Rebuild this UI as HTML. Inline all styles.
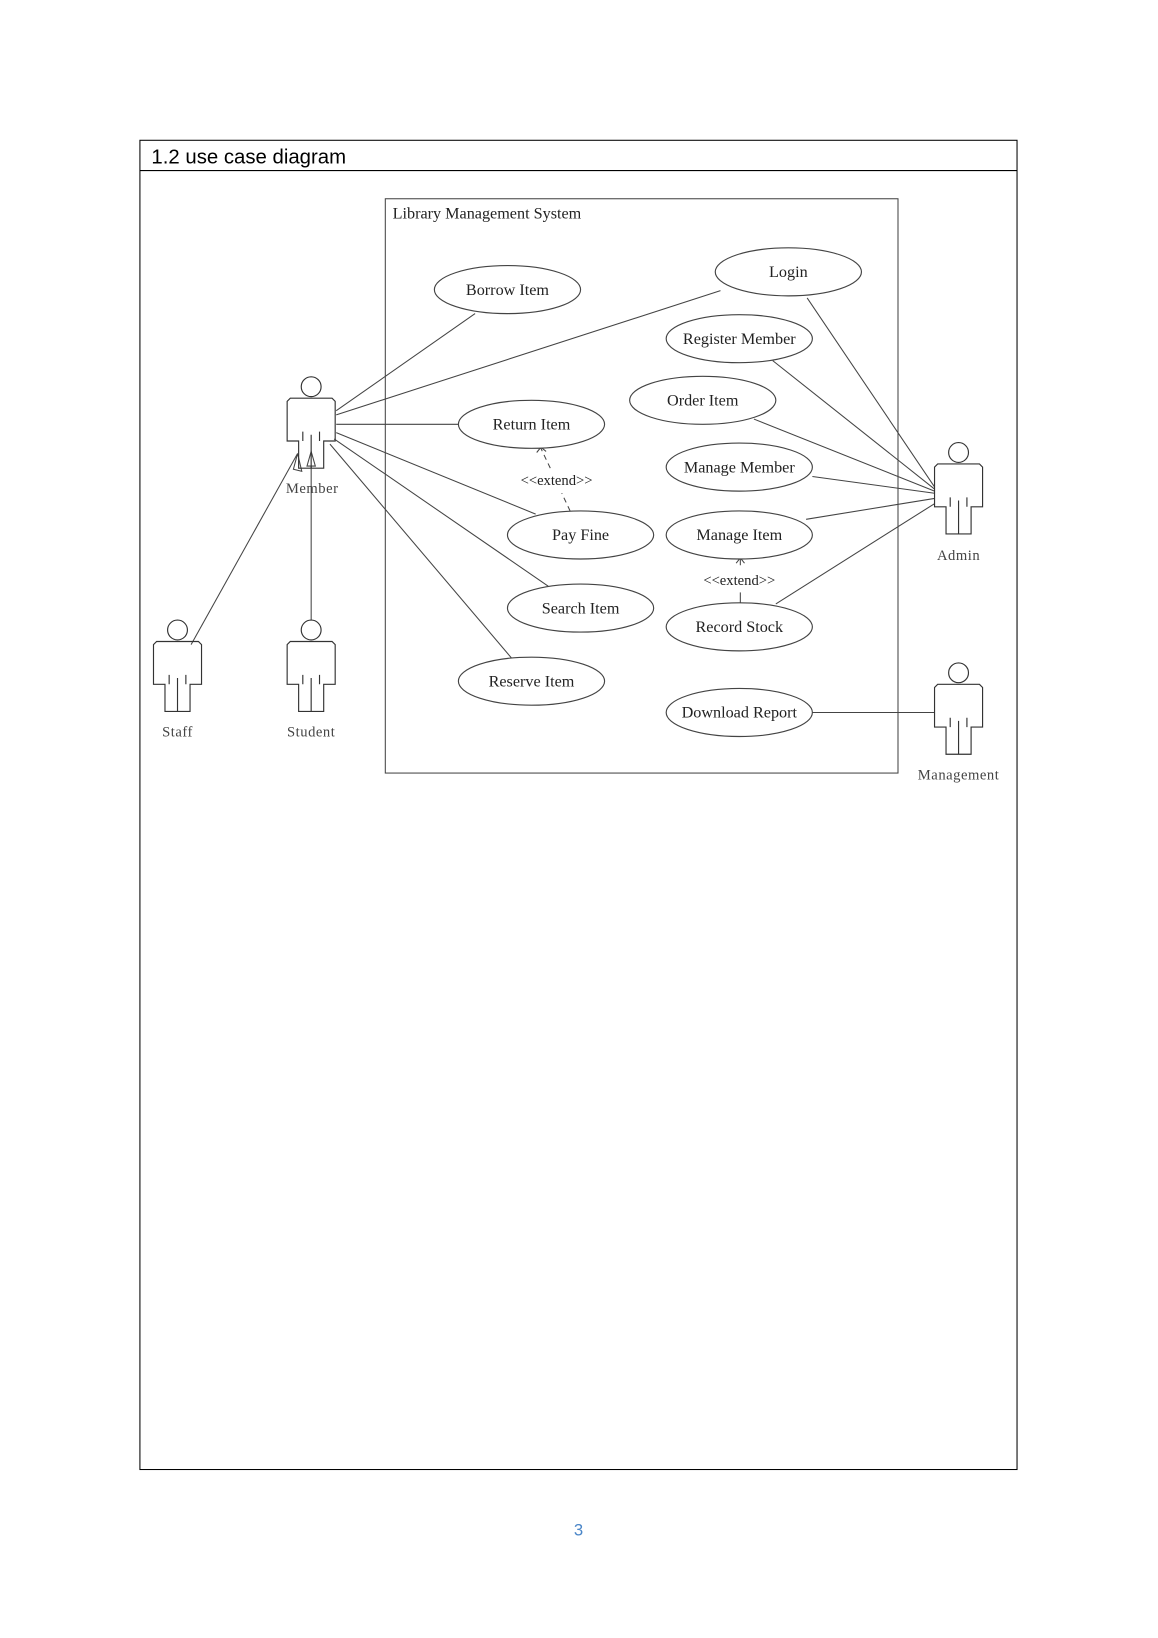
<!DOCTYPE html>
<html><head><meta charset="utf-8"><style>
html,body{margin:0;padding:0;background:#fff;width:1158px;height:1638px;overflow:hidden}
svg{display:block}
.s{font-family:"Liberation Serif",serif;font-size:15.5px;fill:#222}
</style></head><body>
<svg width="1158" height="1638" viewBox="0 0 1109 1568" xmlns="http://www.w3.org/2000/svg">
<defs>
<g id="actor" fill="none" stroke="#333" stroke-width="1.1">
<circle cx="0" cy="0" r="9.5"/>
<path d="M-12,78 V52 H-23 V14 L-20,11 H20 L23,14 V52 H12 V78 Z"/>
<path d="M-8,43 V52 M8,43 V52 M0,46 V78"/>
</g>
</defs>
<rect x="134" y="134" width="840" height="1273" fill="none" stroke="#000" stroke-width="1"/>
<line x1="134" y1="163" x2="974" y2="163" stroke="#000"/>
<text x="145" y="156" font-family="'Liberation Sans',sans-serif" font-size="19.5" fill="#000">1.2 use case diagram</text>
<rect x="369" y="190" width="491" height="550" fill="none" stroke="#444"/>
<text x="376" y="209" class="s" font-size="16">Library Management System</text>
<g stroke="#444" stroke-width="1" fill="none">
<line x1="322" y1="393" x2="455" y2="300"/>
<line x1="322" y1="397" x2="690" y2="278"/>
<line x1="322" y1="406" x2="439" y2="406"/>
<line x1="322" y1="414" x2="513" y2="492"/>
<line x1="320" y1="420" x2="525" y2="561"/>
<line x1="316" y1="425" x2="490" y2="630"/>
<line x1="895" y1="466" x2="773" y2="285"/>
<line x1="895" y1="468" x2="740" y2="345"/>
<line x1="895" y1="470" x2="722" y2="401"/>
<line x1="895" y1="472" x2="778" y2="456"/>
<line x1="895" y1="477" x2="772" y2="497"/>
<line x1="895" y1="482" x2="743" y2="578"/>
<line x1="778" y1="682" x2="895" y2="682"/>
<line x1="183" y1="617" x2="285" y2="434"/>
<line x1="298" y1="593" x2="298" y2="436"/>
<path d="M285,434 L281,449 L289,451 Z" fill="#fff"/>
<path d="M298,432 L294,446 L302,446 Z" fill="#fff"/>
<line x1="546" y1="489" x2="538" y2="472" stroke-dasharray="5,4"/>
<line x1="527" y1="448" x2="518" y2="429" stroke-dasharray="5,4"/>
<path d="M514,433 L518,428 L523,432"/>
<line x1="709" y1="577" x2="709" y2="567"/>
<line x1="709" y1="541" x2="709" y2="535"/>
<path d="M705,539 L709,534 L713,539"/>
</g>
<g fill="#fff" stroke="#444" stroke-width="1.1">
<ellipse cx="486" cy="277" rx="70" ry="23"/>
<ellipse cx="755" cy="260" rx="70" ry="23"/>
<ellipse cx="708" cy="324" rx="70" ry="23"/>
<ellipse cx="673" cy="383" rx="70" ry="23"/>
<ellipse cx="509" cy="406" rx="70" ry="23"/>
<ellipse cx="708" cy="447" rx="70" ry="23"/>
<ellipse cx="556" cy="512" rx="70" ry="23"/>
<ellipse cx="708" cy="512" rx="70" ry="23"/>
<ellipse cx="556" cy="582" rx="70" ry="23"/>
<ellipse cx="708" cy="600" rx="70" ry="23"/>
<ellipse cx="509" cy="652" rx="70" ry="23"/>
<ellipse cx="708" cy="682" rx="70" ry="23"/>
</g>
<g class="s" text-anchor="middle">
<text x="486" y="282">Borrow Item</text>
<text x="755" y="265">Login</text>
<text x="708" y="329">Register Member</text>
<text x="673" y="388">Order Item</text>
<text x="509" y="411">Return Item</text>
<text x="708" y="452">Manage Member</text>
<text x="556" y="517">Pay Fine</text>
<text x="708" y="517">Manage Item</text>
<text x="556" y="587">Search Item</text>
<text x="708" y="605">Record Stock</text>
<text x="509" y="657">Reserve Item</text>
<text x="708" y="687">Download Report</text>
<text x="533" y="464" font-size="14">&lt;&lt;extend&gt;&gt;</text>
<text x="708" y="560" font-size="14">&lt;&lt;extend&gt;&gt;</text>
<text x="299" y="472" font-size="14" fill="#444" letter-spacing="0.5">Member</text>
<text x="918" y="536" font-size="14" fill="#444" letter-spacing="0.5">Admin</text>
<text x="170" y="705" font-size="14" fill="#444" letter-spacing="0.5">Staff</text>
<text x="298" y="705" font-size="14" fill="#444" letter-spacing="0.5">Student</text>
<text x="918" y="746" font-size="14" fill="#444" letter-spacing="0.5">Management</text>
</g>
<use href="#actor" x="298" y="370"/>
<use href="#actor" x="918" y="433"/>
<use href="#actor" x="170" y="603"/>
<use href="#actor" x="298" y="603"/>
<use href="#actor" x="918" y="644"/>
<text x="554" y="1470" text-anchor="middle" font-family="'Liberation Sans',sans-serif" font-size="16" fill="#4a86c8">3</text>
</svg>
</body></html>
